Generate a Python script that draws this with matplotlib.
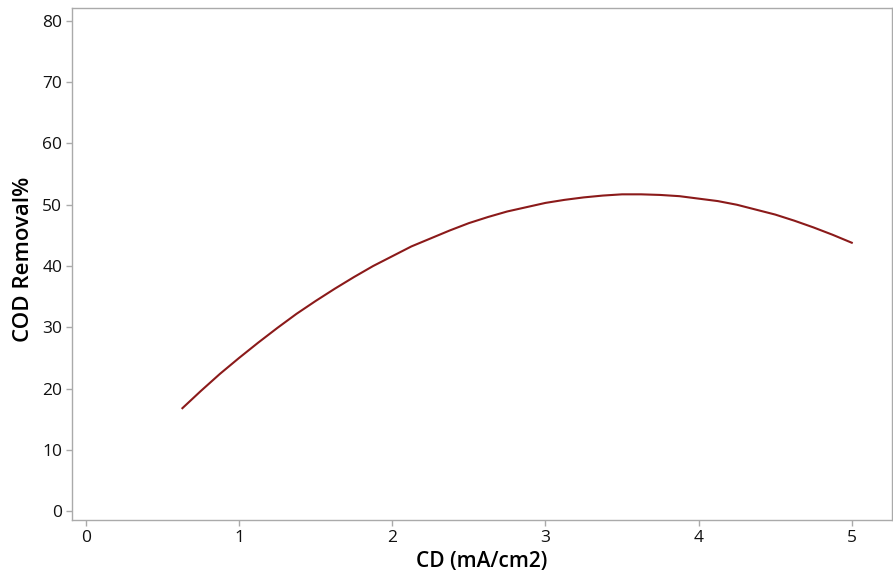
import matplotlib.pyplot as plt

# Valeurs
cd = [0.63, 0.75, 0.875, 1.0, 1.125, 1.25, 1.375, 1.5, 1.625, 1.75, 1.875,
      2.0, 2.125, 2.25, 2.375, 2.5, 2.625, 2.75, 2.875, 3.0, 3.125,
      3.25, 3.375, 3.5, 3.625, 3.75, 3.875, 4.0, 4.125, 4.25, 4.375,
      4.5, 4.625, 4.75, 4.875, 5.0]
cod_removal = [16.8, 19.6, 22.4, 25.0, 27.5, 29.9, 32.2, 34.3, 36.3, 38.2, 40.0,
               41.6, 43.2, 44.5, 45.8, 47.0, 48.0, 48.9, 49.6, 50.3, 50.8,
               51.2, 51.5, 51.7, 51.7, 51.6, 51.4, 51.0, 50.6, 50.0, 49.2,
               48.4, 47.4, 46.3, 45.1, 43.8]

x_ticks = [0, 1, 2, 3, 4, 5]
y_ticks = [0, 10, 20, 30, 40, 50, 60, 70, 80]

plt.rcParams['font.family'] = ['Open Sans', 'DejaVu Sans']

fig = plt.figure(figsize=(8.93, 5.76), dpi=100)
ax = fig.add_axes([0.0806, 0.097, 0.918, 0.889])

ax.plot(cd, cod_removal, color="#8B1A1A", linewidth=1.5)

ax.set_xlim(-0.091, 5.261)
ax.set_ylim(-1.47, 82.1)
ax.set_xticks(x_ticks)
ax.set_yticks(y_ticks)

for s in ax.spines.values():
    s.set_color("#AAAAAA")
    s.set_linewidth(1.0)
ax.tick_params(axis="both", length=4, width=1, color="#AAAAAA",
               labelsize=12.5, labelcolor="#111111", pad=3)

ax.set_xlabel("CD (mA/cm2)", fontsize=15, fontweight="semibold", labelpad=4)
ax.set_ylabel("COD Removal%", fontsize=16, fontweight="semibold")
ax.yaxis.set_label_coords(-0.046, 0.51)

fig.savefig("out.png", dpi=100)
